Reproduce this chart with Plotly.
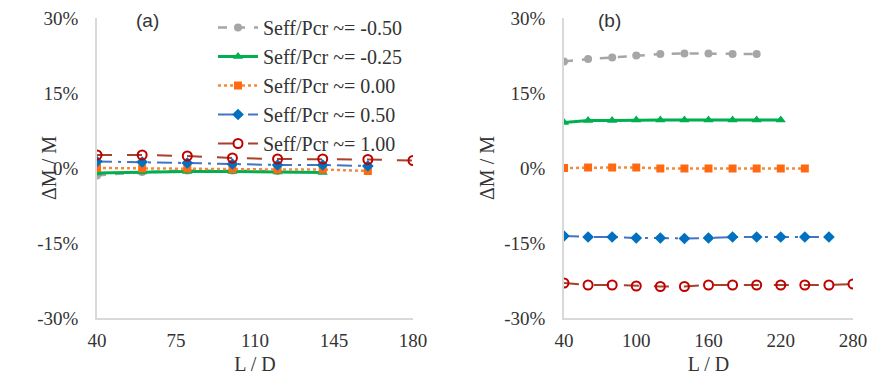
import plotly.graph_objects as go

# ---- data ----
names = ["Seff/Pcr ~= -0.50", "Seff/Pcr ~= -0.25", "Seff/Pcr ~= 0.00",
         "Seff/Pcr ~= 0.50", "Seff/Pcr ~= 1.00"]

# panel (a)
a_x_m050 = [40, 60, 80, 100, 120]
a_y_m050 = [-1.5, -0.8, -0.5, -0.5, -0.6]
a_x_m025 = [40, 60, 80, 100, 120, 140]
a_y_m025 = [-1.0, -0.8, -0.7, -0.7, -0.8, -0.9]
a_x_000 = [40, 60, 80, 100, 120, 140, 160]
a_y_000 = [0.0, -0.1, -0.1, -0.2, -0.3, -0.3, -0.6]
a_x_050 = [40, 60, 80, 100, 120, 140, 160]
a_y_050 = [1.3, 1.2, 1.0, 0.8, 0.6, 0.6, 0.4]
a_x_100 = [40, 60, 80, 100, 120, 140, 160, 180]
a_y_100 = [2.6, 2.6, 2.4, 2.0, 1.8, 1.8, 1.7, 1.5]

# panel (b)
b_x_m050 = [40, 60, 80, 100, 120, 140, 160, 180, 200]
b_y_m050 = [21.3, 21.8, 22.1, 22.5, 22.8, 22.9, 22.9, 22.8, 22.8]
b_x_m025 = [40, 60, 80, 100, 120, 140, 160, 180, 200, 220]
b_y_m025 = [9.1, 9.5, 9.5, 9.6, 9.6, 9.6, 9.6, 9.6, 9.6, 9.6]
b_x_000 = [40, 60, 80, 100, 120, 140, 160, 180, 200, 220, 240]
b_y_000 = [0.0, 0.1, 0.1, 0.1, -0.1, -0.1, -0.1, -0.1, -0.1, -0.1, -0.1]
b_x_050 = [40, 60, 80, 100, 120, 140, 160, 180, 200, 220, 240, 260]
b_y_050 = [-13.6, -13.8, -13.8, -14.0, -14.0, -14.1, -14.0, -13.8, -13.8, -13.8, -13.8, -13.8]
b_x_100 = [40, 60, 80, 100, 120, 140, 160, 180, 200, 220, 240, 260, 280]
b_y_100 = [-23.0, -23.4, -23.4, -23.6, -23.7, -23.7, -23.4, -23.4, -23.4, -23.4, -23.4, -23.4, -23.2]

y_ticks = [-30, -15, 0, 15, 30]
y_tick_labels = ["-30%", "-15%", "0%", "15%", "30%"]
a_x_ticks = [40, 75, 110, 145, 180]
b_x_ticks = [40, 100, 160, 220, 280]

# ---- styles ----
styles = [
    dict(line=dict(color="#A6A6A6", width=2.5, dash="dash"),
         marker=dict(symbol="circle", size=8, color="#A6A6A6")),
    dict(line=dict(color="#00B050", width=3, dash="solid"),
         marker=dict(symbol="triangle-up", size=9, color="#00B050")),
    dict(line=dict(color="#F4893C", width=2.5, dash="dot"),
         marker=dict(symbol="square", size=8, color="#FF6A10")),
    dict(line=dict(color="#4472C4", width=2, dash="longdashdot"),
         marker=dict(symbol="diamond", size=9, color="#0070C0")),
    dict(line=dict(color="#A8402A", width=2, dash="longdash"),
         marker=dict(symbol="circle-open", size=9, color="#C00000",
                     line=dict(width=2, color="#C00000"))),
]

fig = go.Figure()
a_series = [(a_x_m050, a_y_m050), (a_x_m025, a_y_m025), (a_x_000, a_y_000),
            (a_x_050, a_y_050), (a_x_100, a_y_100)]
b_series = [(b_x_m050, b_y_m050), (b_x_m025, b_y_m025), (b_x_000, b_y_000),
            (b_x_050, b_y_050), (b_x_100, b_y_100)]

for i, (xs, ys) in enumerate(a_series):
    fig.add_trace(go.Scatter(x=xs, y=ys, mode="lines+markers", name=names[i],
                             xaxis="x", yaxis="y", showlegend=True, **styles[i]))
for i, (xs, ys) in enumerate(b_series):
    fig.add_trace(go.Scatter(x=xs, y=ys, mode="lines+markers", name=names[i],
                             xaxis="x2", yaxis="y2", showlegend=False, **styles[i]))

# page body has an 8px margin on every side: keep the figure inside the window
OFF = 8
W, H = 876 - 2 * OFF, 383 - 2 * OFF


def px(X):
    return (X - OFF) / W


def py(Y):
    return 1 - (Y - OFF) / H


serif = "Liberation Serif, Times New Roman, serif"
sans = "Liberation Sans, Arial, sans-serif"
txtcol = "#333333"
tickfont = dict(family=serif, size=19, color=txtcol)
axcol = "#D9D9D9"
ydom = [py(318), py(18)]

common_x = dict(showgrid=False, zeroline=False, showline=True, linecolor=axcol,
                linewidth=1.5, ticks="outside", tickcolor="rgba(0,0,0,0)",
                ticklen=4, tickfont=tickfont, automargin=False,
                ticklabeloverflow="allow",
                title=dict(text="L / D", font=dict(family=serif, size=20, color=txtcol),
                           standoff=8))
common_y = dict(showgrid=False, zeroline=False, showline=True, linecolor=axcol,
                linewidth=1.5, ticks="outside", tickcolor="rgba(0,0,0,0)",
                ticklen=13, tickfont=tickfont, range=[-30, 30], tickvals=y_ticks,
                ticktext=y_tick_labels, domain=ydom, automargin=False,
                ticklabeloverflow="allow")

fig.update_layout(
    width=W, height=H,
    margin=dict(l=0, r=0, t=0, b=0),
    paper_bgcolor="white", plot_bgcolor="white",
    xaxis=dict(common_x, domain=[px(97), px(413)], range=[40, 180], tickvals=a_x_ticks,
               anchor="y"),
    yaxis=dict(common_y, anchor="x"),
    xaxis2=dict(common_x, domain=[px(564), px(853)], range=[40, 280], tickvals=b_x_ticks,
                anchor="y2"),
    yaxis2=dict(common_y, anchor="x2"),
    legend=dict(x=px(213), y=1.0, xanchor="left", yanchor="top",
                bgcolor="rgba(0,0,0,0)", font=dict(family=serif, size=20, color=txtcol),
                tracegroupgap=0, itemwidth=40),
    annotations=[
        dict(text="(a)", x=px(147), y=1.0, xref="paper", yref="paper",
             showarrow=False, font=dict(family=sans, size=19, color=txtcol),
             xanchor="center", yanchor="top"),
        dict(text="(b)", x=px(609), y=1.0, xref="paper", yref="paper",
             showarrow=False, font=dict(family=sans, size=19, color=txtcol),
             xanchor="center", yanchor="top"),
        dict(text="ΔM / M", x=px(49), y=py(168), xref="paper", yref="paper", textangle=-90,
             showarrow=False, font=dict(family=serif, size=20, color=txtcol),
             xanchor="center", yanchor="middle"),
        dict(text="ΔM / M", x=px(487), y=py(168), xref="paper", yref="paper", textangle=-90,
             showarrow=False, font=dict(family=serif, size=20, color=txtcol),
             xanchor="center", yanchor="middle"),
    ],
)

fig.write_html("out.html")
